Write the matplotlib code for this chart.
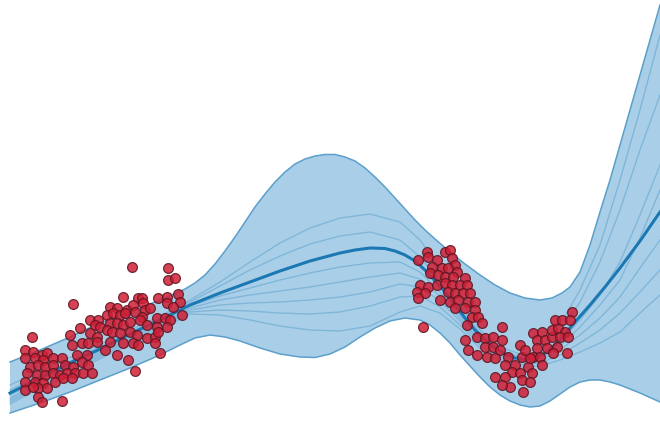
import matplotlib.pyplot as plt
import numpy as np

# Envelope of the predictive distribution (upper and lower edges)
upper_x = [10, 40, 70, 100, 130, 160, 185, 195, 205, 215, 225, 235, 245, 255, 265,
           275, 285, 295, 305, 315, 325, 335, 345, 355, 365, 375, 385, 395, 405,
           415, 425, 435, 450, 465, 480, 495, 510, 525, 540, 552, 562, 570, 580,
           590, 600, 610, 620, 630, 640, 650, 658, 660]
upper_y = [362, 350, 337, 323, 312, 300, 289, 283, 275, 264, 251, 237, 222, 207, 194,
           182, 172, 164, 159, 156, 154.5, 154.5, 157, 161, 168, 177, 187, 198, 209,
           220, 230, 239, 252, 264, 275, 285, 293, 298, 300, 298, 293, 287, 272,
           245, 212, 180, 145, 110, 75, 40, 12, 5]
lower_x = [10, 40, 70, 100, 130, 160, 180, 195, 210, 225, 240, 260, 280, 300, 315,
           330, 345, 360, 375, 390, 405, 420, 430, 440, 450, 460, 470, 480, 490,
           500, 510, 520, 530, 540, 550, 560, 570, 580, 590, 600, 610, 620, 640, 660]
lower_y = [413, 403, 392, 380, 368, 355, 345, 338, 335, 337, 341, 348, 354, 357, 357.5,
           354, 347, 337, 328, 321, 318, 320, 325, 333, 343, 355, 366, 377, 387,
           395, 401, 405, 407, 406, 401, 394, 387, 382, 380, 380, 382, 385, 393, 402]

# Predictive mean
mean_x = [10, 40, 70, 100, 130, 160, 190, 220, 250, 280, 310, 340, 355, 370, 385,
          395, 405, 415, 425, 435, 445, 455, 465, 475, 485, 495, 505, 515, 525,
          535, 545, 555, 565, 575, 590, 605, 620, 640, 660]
mean_y = [393, 378, 363, 349, 334, 320, 305, 293, 282, 271, 261, 253, 250, 248, 248.5,
          251, 255, 261, 270, 281, 292, 305, 318, 330, 340, 348, 354, 358, 359.5,
          358, 353, 345, 334, 322, 305, 287, 268, 241, 212]

# Individual function samples
sample_x = [10, 60, 110, 160, 190, 220, 250, 280, 310, 340, 370, 400, 420, 440,
            460, 480, 500, 520, 540, 560, 580, 600, 620, 640, 660]
samples = [
    [385, 362, 340, 316, 300, 282, 262, 243, 228, 218, 214, 222, 240, 268, 300, 330, 347, 354, 348, 325, 290, 245, 180, 110, 35],
    [390, 366, 342, 318, 302, 286, 270, 256, 244, 236, 232, 240, 257, 282, 307, 333, 350, 357, 352, 332, 302, 262, 210, 150, 95],
    [395, 370, 346, 322, 306, 296, 288, 280, 273, 267, 263, 262, 272, 292, 315, 338, 353, 360, 357, 342, 320, 295, 262, 215, 165],
    [398, 372, 348, 324, 308, 300, 295, 291, 287, 282, 277, 273, 279, 296, 318, 341, 355, 362, 359, 346, 327, 305, 280, 238, 190],
    [400, 374, 350, 326, 310, 305, 303, 302, 300, 297, 292, 284, 287, 301, 321, 343, 357, 363, 361, 350, 335, 318, 297, 268, 240],
    [402, 376, 352, 328, 312, 310, 311, 313, 314, 312, 306, 297, 296, 307, 325, 345, 359, 365, 363, 355, 343, 330, 313, 292, 270],
    [404, 378, 354, 330, 314, 315, 320, 326, 330, 331, 326, 312, 306, 313, 329, 348, 361, 367, 366, 360, 352, 343, 332, 313, 295],
]

# Observations, left cluster
obs_left_x = [131.7, 168.3, 168.3, 175, 73.3, 123.3, 138.3, 141.7, 158.3, 166.7, 178.3, 180,
              110, 116.7, 126.7, 133.3, 143.3, 145, 150, 166.7, 173.3, 181.7, 90, 98.3,
              106.7, 113.3, 120, 125, 135, 141.7, 156.7, 165, 170, 80, 95, 100, 110, 116.7,
              123.3, 130, 140, 146.7, 156.7, 166.7, 70, 90, 96.7, 106.7, 111.7, 120, 130,
              136.7, 146.7, 155, 158.3, 31.7, 71.7, 81.7, 88.3, 96.7, 105, 110, 123.3,
              133.3, 138.3, 155, 160, 25, 33.3, 41.7, 46.7, 25, 35, 43.3, 53.3, 61.7,
              76.7, 86.7, 116.7, 128.3, 30, 38.3, 45, 53.3, 65, 73.3, 81.7, 88.3, 26.7,
              36.7, 45, 53.3, 60, 66.7, 75, 83.3, 91.7, 135, 25, 35, 43.3, 55, 63.3,
              71.7, 25, 38.3, 46.7, 33.3, 38.3, 41.7, 61.7]
obs_left_y = [266.7, 268.3, 280, 277.7, 304.3, 296.7, 298.3, 297.7, 298.3, 296.7, 294.3, 301.7,
              306.7, 308.3, 310, 305, 303.3, 310, 308.3, 303.3, 306.7, 315, 320, 320,
              315, 313.3, 315, 313.3, 311.7, 316.7, 318.3, 318.3, 320, 328.3, 325, 326.7,
              323.3, 323.3, 325, 321.7, 320, 325, 326.7, 326.7, 335, 333.3, 336.7, 330,
              331.7, 333.3, 331.7, 335, 338.3, 336.7, 331.7, 336.7, 345, 343.3, 343.3,
              341.7, 350, 341.7, 343.3, 343.3, 345, 343.3, 353.3, 350, 351.7, 355, 353.3,
              358.3, 358.3, 360, 358.3, 358.3, 355, 355, 355, 360, 366.7, 365, 366.7,
              365, 365, 366.7, 361.7, 365, 373.3, 375, 375, 373.3, 375, 373.3, 373.3,
              373.3, 373.3, 371, 381.7, 381.7, 383.3, 381.7, 378.3, 378.3, 390, 388.3,
              388.3, 386.7, 396.7, 401.7, 400.7]

# Observations, right cluster
obs_right_x = [426.7, 445, 450, 418.3, 428.3, 436.7, 451.7, 455, 431.7, 441.7, 448.3, 456.7,
               430, 438.3, 445, 453.3, 465, 420, 428.3, 436.7, 445, 451.7, 460, 466.7,
               416.7, 425, 448.3, 455, 463.3, 470, 418.3, 440, 450, 458.3, 468.3, 475,
               455, 465, 475, 471.7, 478.3, 466.7, 481.7, 423.3, 501.7, 476.7, 465, 485,
               493.3, 501.7, 468.3, 476.7, 485, 493.3, 500, 486.7, 495, 508.3, 520,
               521.7, 505, 515, 528.3, 511.7, 520, 531.7, 495, 505, 510, 501.7, 521.7,
               530, 523.3, 533.3, 541.7, 536.7, 545, 551.7, 536.7, 546.7, 533.3, 540,
               551.7, 558.3, 555, 561.7, 571.7, 570, 565, 560, 568.3, 556.7, 566.7,
               553.3, 541.7, 530, 525]
obs_right_y = [251.7, 251.7, 250, 260, 256.7, 260, 258.3, 265, 266.7, 268.3, 268.3, 271.7,
               273.3, 275, 276.7, 276.7, 278.3, 285, 286.7, 285, 283.3, 285, 285, 285,
               291.7, 293.3, 291.7, 293.3, 293.3, 293.3, 298.3, 300, 301.7, 300, 301.7,
               301.7, 308.3, 308.3, 310, 316.7, 316.7, 325, 323.3, 326.7, 327.3, 336.7,
               340, 338.3, 336.7, 340, 350, 355, 346.7, 346.7, 350, 356.7, 358.3, 356.7,
               345, 356.7, 365, 365, 366.7, 371.7, 373.3, 373.3, 376.7, 376.7, 386.7,
               385, 380, 381.7, 391.7, 333.3, 331.7, 340, 340, 336.7, 348.3, 348.3,
               356.7, 356.7, 330, 328.3, 320, 320, 311.7, 320, 331.7, 336.7, 336.7,
               346.7, 353.3, 353.3, 365, 358.3, 350]

BAND_FILL = "#a9cfe8"
BAND_EDGE = "#5b9fcb"
MEAN_COLOR = "#1b78b3"
SAMPLE_COLOR = "#4f98c8"
POINT_FACE = "#d21f36"
POINT_EDGE = "#5a1620"


def main() -> None:
    fig = plt.figure(figsize=(6.6, 4.23), dpi=100)
    ax = fig.add_axes([0, 0, 1, 1])

    # Shaded envelope: closed polygon from the two edges
    poly_x = np.concatenate([upper_x, lower_x[::-1]])
    poly_y = np.concatenate([upper_y, lower_y[::-1]])
    ax.fill(poly_x, poly_y, color=BAND_FILL, lw=0, zorder=1)
    ax.plot(upper_x, upper_y, color=BAND_EDGE, lw=1.1, zorder=2)
    ax.plot(lower_x, lower_y, color=BAND_EDGE, lw=1.1, zorder=2)

    for s in samples:
        ax.plot(sample_x, s, color=SAMPLE_COLOR, lw=1.0, alpha=0.45, zorder=3)

    ax.plot(mean_x, mean_y, color=MEAN_COLOR, lw=2.2, zorder=4)

    for xs, ys in [(obs_left_x, obs_left_y), (obs_right_x, obs_right_y)]:
        ax.scatter(xs, ys, s=50, c=POINT_FACE, edgecolors=POINT_EDGE,
                   linewidths=0.9, alpha=0.85, zorder=5)

    ax.set_xlim(0, 660)
    ax.set_ylim(423, 0)
    ax.axis("off")
    fig.savefig("out.png", dpi=100)
    plt.close(fig)


if __name__ == "__main__":
    main()
